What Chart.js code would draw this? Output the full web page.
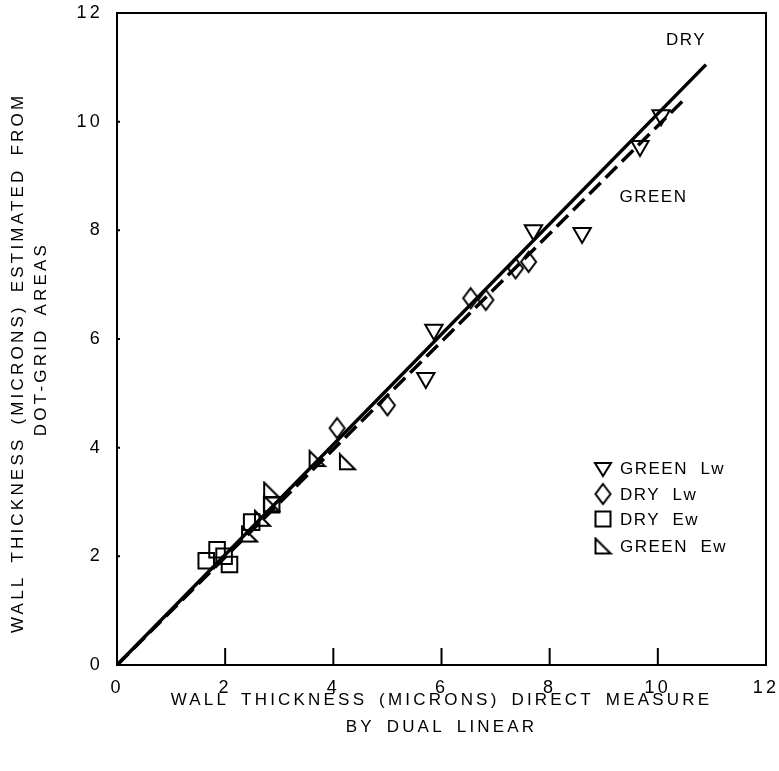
<!DOCTYPE html>
<html>
<head>
<meta charset="utf-8">
<script src="https://cdn.jsdelivr.net/npm/chart.js@4.4.1/dist/chart.umd.min.js"></script>
<style>
  html, body { margin: 0; padding: 0; background: #fff; }
  #wrap { width: 779px; height: 771px; }
</style>
</head>
<body>
<div id="wrap"><canvas id="c" width="779" height="771"></canvas></div>
<script>
// ---- data ----
const xTicks = [0, 2, 4, 6, 8, 10, 12];
const yTicks = [0, 2, 4, 6, 8, 10, 12];

const greenLwX = [10.06, 9.67, 8.60, 7.70, 5.86, 5.71];
const greenLwY = [10.12, 9.55, 7.95, 8.00, 6.17, 5.28];

const dryLwX = [6.54, 6.82, 7.37, 7.61, 5.00, 4.07];
const dryLwY = [6.75, 6.72, 7.30, 7.42, 4.78, 4.36];

const dryEwX = [1.65, 1.85, 1.98, 2.08, 2.49, 2.86];
const dryEwY = [1.92, 2.12, 2.00, 1.85, 2.63, 2.95];

const greenEwX = [2.45, 2.69, 2.86, 2.86, 3.70, 4.26];
const greenEwY = [2.41, 2.70, 2.97, 3.22, 3.80, 3.74];

const dryLineX = [0, 10.89];
const dryLineY = [0, 11.05];
const greenLineX = [0, 10.52];
const greenLineY = [0, 10.44];

const legendLabels = ['GREEN  Lw', 'DRY  Lw', 'DRY  Ew', 'GREEN  Ew'];
const lineLabels = [
  { text: 'DRY', x: 10.52, y: 11.5 },
  { text: 'GREEN', x: 9.92, y: 8.61 }
];

// ---- helpers ----
const pts = (xs, ys) => xs.map((x, i) => ({ x: x, y: ys[i] }));
const FONT = '"Liberation Sans", Arial, sans-serif';
const SPACING = '3.2px';
const WORDSPACING = '4px';

function makeDiamond(w, h, lw) {
  const c = document.createElement('canvas');
  c.width = w + lw * 2; c.height = h + lw * 2;
  const g = c.getContext('2d');
  const cx = c.width / 2, cy = c.height / 2;
  g.strokeStyle = '#000'; g.lineWidth = lw; g.lineJoin = 'miter';
  g.beginPath();
  g.moveTo(cx, cy - h / 2); g.lineTo(cx + w / 2, cy); g.lineTo(cx, cy + h / 2); g.lineTo(cx - w / 2, cy);
  g.closePath(); g.stroke();
  return c;
}
function makeRightTri(s, lw) {
  const c = document.createElement('canvas');
  c.width = s + lw * 2; c.height = s + lw * 2;
  const g = c.getContext('2d');
  const o = lw;
  g.strokeStyle = '#000'; g.lineWidth = lw; g.lineJoin = 'miter';
  g.beginPath();
  g.moveTo(o, o); g.lineTo(o, o + s); g.lineTo(o + s, o + s);
  g.closePath(); g.stroke();
  return c;
}
const diamondImg = makeDiamond(15, 20, 2);
const rightTriImg = makeRightTri(15, 2);

const framePlugin = {
  id: 'frame',
  beforeDraw(chart) {
    chart.ctx.letterSpacing = SPACING;
    chart.ctx.wordSpacing = WORDSPACING;
  },
  afterDatasetsDraw(chart) {
    const { ctx, chartArea: a, scales } = chart;
    ctx.save();
    ctx.strokeStyle = '#000';
    ctx.lineWidth = 2;
    ctx.strokeRect(a.left, a.top, a.right - a.left, a.bottom - a.top);
    // inward ticks on the x axis
    ctx.beginPath();
    xTicks.forEach(v => {
      if (v === 0 || v === 12) return;
      const px = scales.x.getPixelForValue(v);
      ctx.moveTo(px, a.bottom); ctx.lineTo(px, a.bottom - 17);
    });
    // small inward ticks on the y axis
    yTicks.forEach(v => {
      if (v === 0 || v === 12) return;
      const py = scales.y.getPixelForValue(v);
      ctx.moveTo(a.left, py); ctx.lineTo(a.left + 3, py);
    });
    ctx.stroke();
    // line labels
    ctx.fillStyle = '#000';
    ctx.font = '17px ' + FONT;
    ctx.letterSpacing = '1.5px';
    ctx.wordSpacing = '0px';
    ctx.textAlign = 'center';
    ctx.textBaseline = 'middle';
    lineLabels.forEach(l => {
      ctx.fillText(l.text, scales.x.getPixelForValue(l.x), scales.y.getPixelForValue(l.y));
    });
    // legend
    const lx = 603, ly = [468, 494, 519, 546];
    ctx.lineWidth = 2;
    ctx.beginPath();
    ctx.moveTo(lx - 8, ly[0] - 5); ctx.lineTo(lx + 8, ly[0] - 5); ctx.lineTo(lx, ly[0] + 8); ctx.closePath(); ctx.stroke();
    ctx.drawImage(diamondImg, lx - diamondImg.width / 2, ly[1] - diamondImg.height / 2);
    ctx.strokeRect(lx - 7.5, ly[2] - 7.5, 15, 15);
    ctx.drawImage(rightTriImg, lx - rightTriImg.width / 2, ly[3] - rightTriImg.height / 2);
    ctx.textAlign = 'left';
    legendLabels.forEach((t, i) => ctx.fillText(t, 620, ly[i] + 1));
    ctx.restore();
  }
};

const ctx = document.getElementById('c').getContext('2d');
new Chart(ctx, {
  type: 'scatter',
  data: {
    datasets: [
      { type: 'line', label: 'DRY', data: pts(dryLineX, dryLineY), borderColor: '#000', borderWidth: 3.5, pointRadius: 0, fill: false, order: 5 },
      { type: 'line', label: 'GREEN', data: pts(greenLineX, greenLineY), borderColor: '#000', borderWidth: 3.5, borderDash: [16, 7], pointRadius: 0, fill: false, order: 5 },
      { label: 'GREEN Lw', data: pts(greenLwX, greenLwY), pointStyle: 'triangle', rotation: 180, pointRadius: 10, pointHoverRadius: 10, borderColor: '#000', backgroundColor: 'rgba(255,255,255,0)', borderWidth: 2 },
      { label: 'DRY Lw', data: pts(dryLwX, dryLwY), pointStyle: diamondImg, pointRadius: 10, borderColor: '#000', backgroundColor: 'rgba(255,255,255,0)', borderWidth: 2 },
      { label: 'DRY Ew', data: pts(dryEwX, dryEwY), pointStyle: 'rect', pointRadius: 11, pointHoverRadius: 11, borderColor: '#000', backgroundColor: 'rgba(255,255,255,0)', borderWidth: 2 },
      { label: 'GREEN Ew', data: pts(greenEwX, greenEwY), pointStyle: rightTriImg, pointRadius: 10, borderColor: '#000', backgroundColor: 'rgba(255,255,255,0)', borderWidth: 2 }
    ]
  },
  options: {
    responsive: false,
    animation: false,
    events: [],
    layout: { padding: { top: 13, right: 11, left: 0, bottom: 0 } },
    plugins: { legend: { display: false }, tooltip: { enabled: false } },
    scales: {
      x: {
        type: 'linear', min: 0, max: 12,
        afterBuildTicks: s => { s.ticks = xTicks.map(v => ({ value: v })); },
        afterFit: s => { s.height = 106; s.paddingLeft = 0; s.paddingRight = 0; },
        grid: { display: false, drawTicks: false },
        border: { display: false },
        ticks: { color: '#000', padding: 12, font: { family: FONT, size: 18 }, maxRotation: 0, autoSkip: false },
        title: { display: true, text: ['WALL THICKNESS (MICRONS) DIRECT MEASURE', 'BY DUAL LINEAR'], color: '#000', font: { family: FONT, size: 17, lineHeight: 1.6 }, padding: { top: 0, bottom: 30 } }
      },
      y: {
        type: 'linear', min: 0, max: 12,
        afterBuildTicks: s => { s.ticks = yTicks.map(v => ({ value: v })); },
        afterFit: s => { s.width = 117; s.paddingTop = 0; s.paddingBottom = 0; },
        grid: { display: false, drawTicks: false },
        border: { display: false },
        ticks: { color: '#000', padding: 14, font: { family: FONT, size: 18 }, autoSkip: false },
        title: { display: true, text: ['WALL THICKNESS (MICRONS) ESTIMATED FROM    ', 'DOT-GRID AREAS'], color: '#000', font: { family: FONT, size: 17, lineHeight: 1.4 }, padding: { top: 6, bottom: 0 } }
      }
    }
  },
  plugins: [framePlugin]
});
</script>
</body>
</html>
